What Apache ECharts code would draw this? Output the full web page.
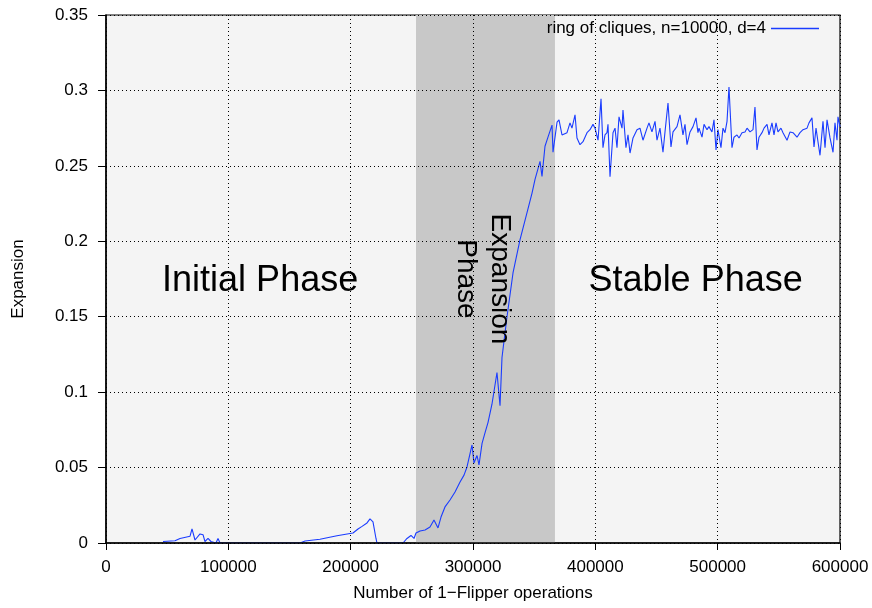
<!DOCTYPE html>
<html><head><meta charset="utf-8">
<script src="https://cdn.jsdelivr.net/npm/echarts@6/dist/echarts.min.js"></script>
<style>html,body{margin:0;padding:0;background:#fff}#c{width:872px;height:608px}</style>
</head><body><div id="c"></div>
<script>
const seriesName = 'ring of cliques, n=10000, d=4';
const xTicks = [0, 100000, 200000, 300000, 400000, 500000, 600000];
const yTicks = [0, 0.05, 0.1, 0.15, 0.2, 0.25, 0.3, 0.35];
const phaseBands = [[253400, 367000]];
const phaseLabels = ['Initial Phase', 'Expansion', 'Phase', 'Stable Phase'];

const opsX = [
 46600, 56400, 60500, 68700, 70300, 72750, 76850, 79300, 80900, 83400, 85800, 86650, 89900, 91550, 93200,
 158600, 162700, 174900, 188800, 201900, 206000, 209300, 213350, 215800, 218250, 220700, 221500,
 242800, 246050, 249300, 251800, 253400, 256700, 260800, 264850, 268100, 271400, 273850, 277100, 281200, 285300, 289400, 292650, 295100, 299200, 300800, 303300, 304900,
 307400, 309800, 312300, 315500, 319600, 322100, 323700, 327800, 332700, 338400, 344150, 348250, 350700, 354800, 356400, 358850, 361300, 364600, 365400,
 368700, 370300, 372750, 376850, 379300, 380900, 383400, 385000, 387450, 389900, 393200, 395650, 398100, 399750, 402200, 404650, 406250, 407900, 409550, 410350,
 412000, 414450, 416100, 417700, 419350, 421800, 422600, 425050, 426700, 428350, 430800, 434050, 436500, 438950, 442250, 443850, 446300, 448800, 450400, 452850,
 455300, 456950, 459400, 461850, 463500, 466750, 469200, 471650, 473300, 474950, 477400, 479850, 482300, 483900,
 484750, 487200, 488850, 491300, 492900, 495350, 497000, 498650, 500250, 502700, 504350, 506000, 507650, 509250, 511700, 513350, 515800, 517450, 519900, 522350,
 524000, 526450, 528900, 530500, 532150, 533800, 536250, 537900, 540350, 541950, 544400, 546050, 547700, 549300, 551750, 553400, 556700, 559150, 561600, 564850,
 567300, 569750, 573050, 574650, 577100, 578750, 580400, 582000, 583650, 586100, 587750, 589400, 591850, 594300, 595900, 597550, 598350, 600000
];
const expansion = [
 0.001, 0.0015, 0.003, 0.0045, 0.0093, 0.002, 0.006, 0.0055, 0.001, 0.003, 0.001, 0, 0, 0.003, 0,
 0, 0.0013, 0.0025, 0.0048, 0.0066, 0.0093, 0.011, 0.0133, 0.016, 0.014, 0.003, 0,
 0, 0.003, 0.005, 0.003, 0.0066, 0.008, 0.0086, 0.0106, 0.0152, 0.010, 0.0172, 0.0239, 0.0285, 0.0338, 0.0404, 0.045, 0.0504, 0.065, 0.053, 0.058, 0.0517,
 0.066, 0.073, 0.080, 0.092, 0.113, 0.091, 0.123, 0.150, 0.179, 0.201, 0.219, 0.232, 0.241, 0.253, 0.243, 0.263, 0.269, 0.277, 0.259,
 0.279, 0.2805, 0.2705, 0.272, 0.2785, 0.275, 0.2838, 0.2685, 0.264, 0.266, 0.272, 0.274, 0.2775, 0.275, 0.267, 0.2944, 0.262, 0.2705, 0.272, 0.2775,
 0.2428, 0.272, 0.275, 0.262, 0.2825, 0.275, 0.287, 0.262, 0.2705, 0.2585, 0.2685, 0.274, 0.275, 0.267, 0.275, 0.2785, 0.2725, 0.2795, 0.267, 0.275,
 0.259, 0.2725, 0.2917, 0.2625, 0.2725, 0.276, 0.2838, 0.2705, 0.2775, 0.264, 0.2725, 0.276, 0.2818, 0.272,
 0.275, 0.269, 0.2775, 0.274, 0.276, 0.2725, 0.2805, 0.2605, 0.274, 0.262, 0.275, 0.272, 0.2795, 0.3023, 0.262, 0.269, 0.2705, 0.2685, 0.272, 0.2725,
 0.275, 0.2725, 0.274, 0.289, 0.2605, 0.269, 0.272, 0.275, 0.2775, 0.2705, 0.2785, 0.2705, 0.2785, 0.2725, 0.275, 0.272, 0.267, 0.2725, 0.272, 0.269,
 0.272, 0.274, 0.275, 0.2785, 0.2818, 0.2625, 0.275, 0.266, 0.257, 0.2795, 0.262, 0.2805, 0.2685, 0.259, 0.2785, 0.267, 0.2825, 0.276
];

const chart = echarts.init(document.getElementById('c'), null, {renderer: 'canvas'});
const font = '"Liberation Sans", Helvetica, Arial, sans-serif';
const pts = opsX.map((x, i) => [x, expansion[i]]);

const gridL = 106, gridR = 32, gridT = 15, gridB = 65;

chart.setOption({
  animation: false,
  backgroundColor: '#ffffff',
  textStyle: {fontFamily: font},
  grid: {left: gridL, right: gridR, top: gridT, bottom: gridB, show: true,
    containLabel: false, outerBoundsMode: 'none',
    backgroundColor: '#f4f4f4', borderColor: '#000', borderWidth: 1.2},
  legend: {
    show: true, data: [seriesName], right: 53, top: 20, align: 'right', padding: 0,
    itemWidth: 48, itemHeight: 1.5, itemGap: 8,
    icon: 'rect',
    textStyle: {fontSize: 17, color: '#000', fontFamily: font},
    backgroundColor: 'transparent'
  },
  xAxis: {
    type: 'value', min: 0, max: 600000, interval: 100000, z: 10,
    name: 'Number of 1\u2212Flipper operations', nameLocation: 'middle', nameGap: 42,
    nameTextStyle: {fontSize: 17, color: '#000', fontFamily: font},
    axisLine: {show: true, onZero: false, lineStyle: {color: '#000', width: 1.5}},
    axisTick: {show: true, inside: false, length: 7, lineStyle: {color: '#000', width: 1}},
    axisLabel: {color: '#000', fontSize: 17, margin: 16, fontFamily: font,
      formatter: v => String(v)},
    splitLine: {show: true, lineStyle: {color: '#000', type: [1, 3], width: 1}}
  },
  yAxis: {
    type: 'value', min: 0, max: 0.35, interval: 0.05, z: 10,
    name: 'Expansion', nameLocation: 'middle', nameGap: 79, nameRotate: 90,
    nameTextStyle: {fontSize: 17, color: '#000', fontFamily: font},
    axisLine: {show: true, onZero: false, lineStyle: {color: '#000', width: 1.5}},
    axisTick: {show: true, inside: false, length: 8, lineStyle: {color: '#000', width: 1}},
    axisLabel: {color: '#000', fontSize: 17, margin: 18, fontFamily: font,
      formatter: v => String(Math.round(v * 100) / 100)},
    splitLine: {show: true, lineStyle: {color: '#000', type: [1, 3], width: 1}}
  },
  series: [{
    name: seriesName, type: 'line', data: pts, showSymbol: false, symbol: 'none',
    z: 3,
    lineStyle: {color: '#1a3cff', width: 1.1},
    itemStyle: {color: '#1a3cff'},
    markArea: {
      silent: true,
      itemStyle: {color: '#c8c8c8', opacity: 1},
      data: phaseBands.map(b => [{xAxis: b[0], yAxis: 0}, {xAxis: b[1], yAxis: 0.35}])
    }
  }]
});

function place() {
  const p1 = chart.convertToPixel({gridIndex: 0}, [126000, 0.175]);
  const p2 = chart.convertToPixel({gridIndex: 0}, [482000, 0.175]);
  const pE = chart.convertToPixel({gridIndex: 0}, [322000, 0.175]);
  const pP = chart.convertToPixel({gridIndex: 0}, [294000, 0.175]);
  chart.setOption({
    graphic: [
      {type: 'text', x: p1[0], y: p1[1] + 2, z: 5, style: {text: phaseLabels[0], font: '36px ' + font, fill: '#000', align: 'center', verticalAlign: 'middle'}},
      {type: 'text', x: pE[0], y: pE[1], rotation: -Math.PI / 2, z: 5, style: {text: phaseLabels[1], font: '28px ' + font, fill: '#000', align: 'center', verticalAlign: 'middle'}},
      {type: 'text', x: pP[0], y: pP[1], rotation: -Math.PI / 2, z: 5, style: {text: phaseLabels[2], font: '28px ' + font, fill: '#000', align: 'center', verticalAlign: 'middle'}},
      {type: 'text', x: p2[0], y: p2[1] + 2, z: 5, style: {text: phaseLabels[3], font: '36px ' + font, fill: '#000', align: 'center', verticalAlign: 'middle'}}
    ]
  });
}
place();
</script></body></html>
